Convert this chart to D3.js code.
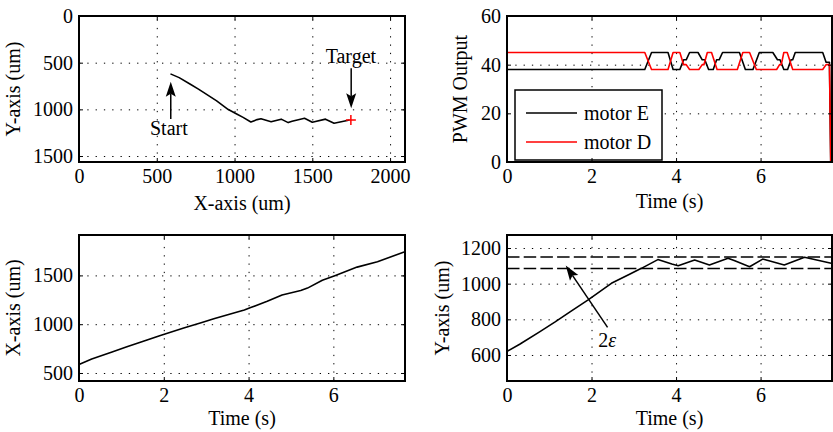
<!DOCTYPE html>
<html>
<head>
<meta charset="utf-8">
<script src="https://cdn.jsdelivr.net/npm/d3@7"></script>
<style>
body { margin: 0; background: #fff; }
svg text { font-family: "Liberation Serif", "Times New Roman", serif; fill: #000; }
</style>
</head>
<body>
<svg id="chart" width="833" height="432"></svg>
<script>
// stage trajectory, sampled in time (s)
const timeS = [0, 0.3, 0.78, 1.13, 1.5, 1.92, 2.47, 2.9, 3.18, 3.57, 3.9, 4.05, 4.44, 4.79, 5.23, 5.39, 5.74, 6.05, 6.56, 7.04, 7.67];
const xPos  = [588, 644, 716, 768, 823, 885, 960, 1017, 1055, 1105, 1145, 1170, 1235, 1300, 1345, 1370, 1450, 1500, 1585, 1640, 1740];
const yPos  = [620, 660, 731, 784, 843, 909, 1002, 1053, 1086, 1135, 1110, 1101, 1133, 1105, 1142, 1128, 1095, 1138, 1105, 1148, 1114];
const target = [1748, 1113];
const bandY = [1085, 1150];   // +/- epsilon around target

// PWM outputs
const pwmTimeE = [0, 3.26, 3.42, 3.81, 3.93, 4.09, 4.18, 4.24, 4.32, 4.52, 4.62, 4.68, 4.77, 4.88, 4.96, 5.02, 5.10, 5.50, 5.64, 5.82, 5.97, 6.29, 6.40, 6.46, 6.55, 6.64, 6.72, 6.76, 6.82, 7.47, 7.55, 7.63, 7.66];
const motorE   = [38, 38, 45, 45, 38, 38, 42, 42, 45, 45, 42, 42, 38, 38, 42, 42, 45, 45, 38, 38, 45, 45, 42, 42, 38, 38, 42, 42, 45, 45, 41, 41, 0];
const pwmTimeD = [0, 3.26, 3.42, 3.81, 3.93, 4.09, 4.18, 4.24, 4.32, 4.54, 4.62, 4.66, 4.74, 4.84, 4.97, 5.45, 5.58, 5.74, 5.90, 6.38, 6.45, 6.49, 6.55, 6.63, 6.76, 7.47, 7.55, 7.63, 7.66];
const motorD   = [45, 45, 38, 38, 45, 45, 40, 40, 38, 38, 40, 40, 45, 45, 38, 38, 45, 45, 38, 38, 40, 40, 45, 45, 38, 38, 40, 40, 0];
const legendNames = ['motor E', 'motor D'];

// tick values
const umTicksX = [0, 500, 1000, 1500, 2000];
const umTicksY = [0, 500, 1000, 1500];
const timeTicks = [0, 2, 4, 6];
const pwmTicks = [0, 20, 40, 60];
const xAxisTicks = [500, 1000, 1500];
const yAxisTicks = [600, 800, 1000, 1200];

const svg = d3.select('#chart');
const RED = '#f00';

function styleAxis(s) {
    s.select('.domain').remove();
    s.selectAll('line').attr('stroke', '#000').attr('stroke-width', 1);
    s.selectAll('text').attr('font-size', '20px').attr('fill', '#000')
        .attr('font-family', '"Liberation Serif", serif');
}

function makePanel(p) {
    const x = d3.scaleLinear().domain(p.xDomain).range([p.left, p.right]);
    const y = d3.scaleLinear().domain(p.yDomain).range([p.bottom, p.top]);
    const w = p.right - p.left, h = p.bottom - p.top;
    const g = svg.append('g');

    // dotted grid
    g.append('g').attr('class', 'grid').attr('transform', `translate(0,${p.bottom})`)
        .call(d3.axisBottom(x).tickValues(p.xTicks).tickSize(-h).tickFormat(''));
    g.append('g').attr('class', 'grid').attr('transform', `translate(${p.left},0)`)
        .call(d3.axisLeft(y).tickValues(p.yTicks).tickSize(-w).tickFormat(''));
    g.selectAll('.grid .domain').remove();
    g.selectAll('.grid line').attr('stroke', '#000').attr('stroke-width', 1)
        .attr('stroke-dasharray', '1.3,7');

    const plot = g.append('g');

    // inward ticks on all four sides
    const fmt = d3.format('d');
    g.append('g').attr('transform', `translate(0,${p.bottom})`)
        .call(d3.axisBottom(x).tickValues(p.xTicks).tickSize(-4).tickPadding(7).tickFormat(fmt)).call(styleAxis);
    g.append('g').attr('transform', `translate(${p.left},0)`)
        .call(d3.axisLeft(y).tickValues(p.yTicks).tickSize(-4).tickPadding(6).tickFormat(fmt)).call(styleAxis);
    g.append('g').attr('transform', `translate(0,${p.top})`)
        .call(d3.axisTop(x).tickValues(p.xTicks).tickSize(-4).tickFormat('')).call(styleAxis);
    g.append('g').attr('transform', `translate(${p.right},0)`)
        .call(d3.axisRight(y).tickValues(p.yTicks).tickSize(-4).tickFormat('')).call(styleAxis);

    const frame = g.append('rect')
        .attr('x', p.left).attr('y', p.top).attr('width', w).attr('height', h)
        .attr('fill', 'none').attr('stroke', '#000').attr('stroke-width', 2);

    g.append('text').attr('x', (p.left + p.right) / 2).attr('y', p.xLabelY)
        .attr('text-anchor', 'middle').attr('font-size', '20px').text(p.xLabel);
    g.append('text').attr('transform', `translate(${p.yLabelX},${(p.top + p.bottom) / 2}) rotate(-90)`)
        .attr('text-anchor', 'middle').attr('font-size', '20px').text(p.yLabel);

    return { x, y, plot, frame };
}

function arrow(g, x1, y1, x2, y2) {
    const ang = Math.atan2(y2 - y1, x2 - x1);
    const len = 15, half = 5;
    const bx = x2 - len * Math.cos(ang), by = y2 - len * Math.sin(ang);
    g.append('line').attr('x1', x1).attr('y1', y1).attr('x2', bx + 3 * Math.cos(ang)).attr('y2', by + 3 * Math.sin(ang))
        .attr('stroke', '#000').attr('stroke-width', 1.5);
    const nx = -Math.sin(ang) * half, ny = Math.cos(ang) * half;
    g.append('path')
        .attr('d', `M${x2},${y2}L${bx + nx},${by + ny}L${bx + 3 * Math.cos(ang)},${by + 3 * Math.sin(ang)}L${bx - nx},${by - ny}Z`)
        .attr('fill', '#000');
}

const lineStyle = (sel, color) => sel.attr('fill', 'none').attr('stroke', color)
    .attr('stroke-width', 1.6).attr('stroke-linejoin', 'round');

// ---- top left: X vs Y trajectory ----
const p1 = makePanel({
    left: 79, right: 405, top: 16, bottom: 162,
    xDomain: [0, 2096], yDomain: [1564, 0],
    xTicks: umTicksX, yTicks: umTicksY,
    xLabel: 'X-axis (um)', xLabelY: 210, yLabel: 'Y-axis (um)', yLabelX: 20
});
p1.plot.append('path')
    .attr('d', d3.line().x((d, i) => p1.x(xPos[i])).y(d => p1.y(d))(yPos))
    .call(lineStyle, '#000');
p1.plot.append('path')
    .attr('transform', `translate(${p1.x(target[0])},${p1.y(target[1])})`)
    .attr('d', 'M-5,0H5M0,-5V5').attr('stroke', RED).attr('stroke-width', 1.5);
arrow(p1.plot, p1.x(590), p1.y(1103), p1.x(590), p1.y(703));
p1.plot.append('text').attr('x', p1.x(578)).attr('y', p1.y(1275))
    .attr('text-anchor', 'middle').attr('font-size', '20px').text('Start');
arrow(p1.plot, p1.x(1750), p1.y(560), p1.x(1750), p1.y(989));
p1.plot.append('text').attr('x', p1.x(1748)).attr('y', p1.y(503))
    .attr('text-anchor', 'middle').attr('font-size', '20px').text('Target');

// ---- top right: PWM output ----
const p2 = makePanel({
    left: 507, right: 832, top: 16, bottom: 162,
    xDomain: [0, 7.69], yDomain: [0, 60],
    xTicks: timeTicks, yTicks: pwmTicks,
    xLabel: 'Time (s)', xLabelY: 208, yLabel: 'PWM Output', yLabelX: 467
});
p2.plot.append('path')
    .attr('d', d3.line().x((d, i) => p2.x(pwmTimeE[i])).y(d => p2.y(d))(motorE))
    .call(lineStyle, '#000');
p2.plot.append('path')
    .attr('d', d3.line().x((d, i) => p2.x(pwmTimeD[i])).y(d => p2.y(d))(motorD))
    .call(lineStyle, RED);

const legend = p2.plot.append('g');
legend.append('rect').attr('x', 515).attr('y', 90).attr('width', 147).attr('height', 70)
    .attr('fill', '#fff').attr('stroke', '#000').attr('stroke-width', 1.5);
legend.selectAll('g.item').data(legendNames).join('g').attr('class', 'item')
    .attr('transform', (d, i) => `translate(0,${113 + i * 29})`)
    .each(function (d, i) {
        const it = d3.select(this);
        it.append('line').attr('x1', 526).attr('x2', 577).attr('y1', 0).attr('y2', 0)
            .attr('stroke', i === 0 ? '#000' : RED).attr('stroke-width', 1.5);
        it.append('text').attr('x', 584).attr('y', 6.5).attr('font-size', '20px').text(d);
    });

// ---- bottom left: X position over time ----
const p3 = makePanel({
    left: 79, right: 405, top: 235, bottom: 381,
    xDomain: [0, 7.69], yDomain: [418, 1914],
    xTicks: timeTicks, yTicks: xAxisTicks,
    xLabel: 'Time (s)', xLabelY: 425, yLabel: 'X-axis (um)', yLabelX: 20
});
p3.plot.append('path')
    .attr('d', d3.line().x((d, i) => p3.x(timeS[i])).y(d => p3.y(d))(xPos))
    .call(lineStyle, '#000');

// ---- bottom right: Y position over time ----
const p4 = makePanel({
    left: 507, right: 832, top: 235, bottom: 381,
    xDomain: [0, 7.69], yDomain: [454, 1273],
    xTicks: timeTicks, yTicks: yAxisTicks,
    xLabel: 'Time (s)', xLabelY: 425, yLabel: 'Y-axis (um)', yLabelX: 449
});
p4.plot.selectAll('line.band').data(bandY).join('line').attr('class', 'band')
    .attr('x1', p4.x(0)).attr('x2', p4.x(7.69)).attr('y1', d => p4.y(d)).attr('y2', d => p4.y(d))
    .attr('stroke', '#000').attr('stroke-width', 1.5).attr('stroke-dasharray', '12.5,4.2');
p4.plot.append('path')
    .attr('d', d3.line().x((d, i) => p4.x(timeS[i])).y(d => p4.y(d))(yPos))
    .call(lineStyle, '#000');
arrow(p4.plot, p4.x(2.38), p4.y(755), p4.x(1.39), p4.y(1102));
const eps = p4.plot.append('text').attr('x', p4.x(2.37)).attr('y', p4.y(646))
    .attr('text-anchor', 'middle').attr('font-size', '20px');
eps.append('tspan').text('2');
eps.append('tspan').attr('font-style', 'italic').text('ε');
</script>
</body>
</html>
